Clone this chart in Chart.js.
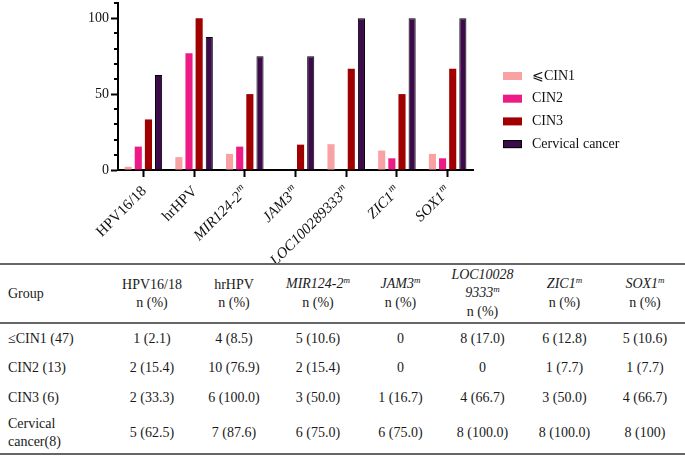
<!DOCTYPE html>
<html>
<head>
<meta charset="utf-8">
<script src="https://cdn.jsdelivr.net/npm/chart.js@4/dist/chart.umd.min.js"></script>
<style>
  body { margin: 0; background: #fff; width: 685px; height: 456px; position: relative; overflow: hidden; }
  #chartBox { position: absolute; left: 0; top: 0; width: 685px; height: 263px; }
  table {
    position: absolute; left: 0; top: 263px; width: 685px;
    border-collapse: collapse; table-layout: fixed;
    font-family: "Liberation Serif", "Times New Roman", serif; font-size: 14px; color: #1a1a1a; line-height: 18px;
    border-top: 2px solid #666; border-bottom: 2px solid #666;
  }
  thead tr { height: 59px; border-bottom: 2px solid #666; }
  tbody tr { height: 30px; }
  tbody tr.tall { height: 41px; }
  td, th { padding: 0; text-align: center; vertical-align: middle; font-weight: normal; }
  td:first-child, th:first-child { text-align: left; padding-left: 8px; }
  sup { font-size: 9px; font-style: italic; vertical-align: 0; position: relative; top: -5px; }
</style>
</head>
<body>
<div id="chartBox"><canvas id="barChart" width="685" height="263"></canvas></div>
<table id="dataTable"></table>
<script>
// Data
const categories = ["HPV16/18", "hrHPV", "MIR124-2", "JAM3", "LOC100289333", "ZIC1", "SOX1"];
const methylated = [false, false, true, true, true, true, true];
const groups = ["⩽CIN1", "CIN2", "CIN3", "Cervical cancer"];
const groupRowLabels = ["≤CIN1 (47)", "CIN2 (13)", "CIN3 (6)", "Cervical<br>cancer(8)"];
const cin1Counts = [1, 4, 5, 0, 8, 6, 5];
const cin1Pct = ["2.1", "8.5", "10.6", "0", "17.0", "12.8", "10.6"];
const cin2Counts = [2, 10, 2, 0, 0, 1, 1];
const cin2Pct = ["15.4", "76.9", "15.4", "0", "0", "7.7", "7.7"];
const cin3Counts = [2, 6, 3, 1, 4, 3, 4];
const cin3Pct = ["33.3", "100.0", "50.0", "16.7", "66.7", "50.0", "66.7"];
const cancerCounts = [5, 7, 6, 6, 8, 8, 8];
const cancerPct = ["62.5", "87.6", "75.0", "75.0", "100.0", "100.0", "100"];
const yTicks = [0, 50, 100];
const yMinorTicks = [10, 20, 30, 40, 60, 70, 80, 90, 110];

const colors = ["#F8A2A4", "#EE1A85", "#A00000", "#3D0B4C"];
const serif = '"Liberation Serif", "Times New Roman", serif';

// Table
function buildTable() {
    const table = document.getElementById("dataTable");
    const widths = [112, 80, 84, 84, 81, 83, 81, 80];
    let html = "<colgroup>" + widths.map(w => '<col style="width:' + w + 'px">').join("") + "</colgroup>";
    html += "<thead><tr><th>Group</th>";
    categories.forEach((name, i) => {
        let label = name;
        if (name.length > 10) label = name.slice(0, 8) + "<br>" + name.slice(8);
        if (methylated[i]) label = "<i>" + label + "<sup>m</sup></i>";
        html += "<th>" + label + "<br>n (%)</th>";
    });
    html += "</tr></thead><tbody>";
    const counts = [cin1Counts, cin2Counts, cin3Counts, cancerCounts];
    const pcts = [cin1Pct, cin2Pct, cin3Pct, cancerPct];
    groupRowLabels.forEach((g, r) => {
        html += (r === 3 ? '<tr class="tall">' : "<tr>") + "<td>" + g + "</td>";
        counts[r].forEach((c, i) => {
            html += "<td>" + (c === 0 ? "0" : c + " (" + pcts[r][i] + ")") + "</td>";
        });
        html += "</tr>";
    });
    html += "</tbody>";
    table.innerHTML = html;
}
buildTable();

// Minor ticks on the y axis
const minorTicks = {
    id: "minorTicks",
    afterDraw(chart) {
        const ctx = chart.ctx;
        const ys = chart.scales.y;
        const x = chart.chartArea.left;
        ctx.save();
        ctx.strokeStyle = "#000";
        ctx.lineWidth = 2;
        yMinorTicks.forEach(v => {
            const y = Math.round(ys.getPixelForValue(v));
            ctx.beginPath();
            ctx.moveTo(x - 4, y);
            ctx.lineTo(x, y);
            ctx.stroke();
        });
        ctx.restore();
    }
};

// Rotated category labels with superscript m
const xLabels = {
    id: "xLabels",
    afterDraw(chart) {
        const ctx = chart.ctx;
        const xs = chart.scales.x;
        const y0 = chart.chartArea.bottom;
        categories.forEach((name, i) => {
            const x = xs.getPixelForTick(i);
            const mainFont = (methylated[i] ? "italic " : "") + "15px " + serif;
            const supFont = "italic 10px " + serif;
            ctx.save();
            ctx.translate(x + 1, y0 + 19);
            ctx.rotate(-Math.PI / 4);
            ctx.fillStyle = "#111";
            ctx.textAlign = "left";
            ctx.textBaseline = "middle";
            ctx.font = mainFont;
            const w = ctx.measureText(name).width;
            let ws = 0;
            if (methylated[i]) {
                ctx.font = supFont;
                ws = ctx.measureText("m").width + 1;
            }
            ctx.font = mainFont;
            ctx.fillText(name, -(w + ws), 0);
            if (methylated[i]) {
                ctx.font = supFont;
                ctx.fillText("m", -ws + 1, -5);
            }
            ctx.restore();
        });
    }
};

// Legend at the right
const sideLegend = {
    id: "sideLegend",
    afterDraw(chart) {
        const ctx = chart.ctx;
        const left = chart.chartArea.right + 30;
        ctx.save();
        ctx.font = "14px " + serif;
        ctx.textBaseline = "middle";
        chart.data.datasets.forEach((ds, i) => {
            const y = 76 + i * 22.7;
            ctx.fillStyle = ds.backgroundColor;
            ctx.fillRect(left, y - 4, 19, 8);
            if (ds.borderWidth) {
                ctx.strokeStyle = "#000";
                ctx.lineWidth = 1;
                ctx.strokeRect(left + 0.5, y - 3.5, 18, 7);
            }
            ctx.fillStyle = "#111";
            ctx.fillText(ds.label, left + 29, y);
        });
        ctx.restore();
    }
};

const allPct = [cin1Pct, cin2Pct, cin3Pct, cancerPct];
const datasets = groups.map((g, i) => ({
    label: g,
    data: allPct[i].map(v => parseFloat(v)),
    backgroundColor: colors[i],
    borderColor: "#000",
    borderWidth: i === 3 ? 1 : 0
}));

new Chart(document.getElementById("barChart"), {
    type: "bar",
    data: { labels: categories, datasets: datasets },
    options: {
        responsive: false,
        animation: false,
        devicePixelRatio: 1,
        categoryPercentage: 0.8,
        barPercentage: 0.7,
        layout: { padding: { top: 3, right: 212, left: 0, bottom: 0 } },
        plugins: { legend: { display: false }, tooltip: { enabled: false } },
        scales: {
            x: {
                grid: { drawOnChartArea: false, offset: false, tickLength: 7, tickWidth: 2, tickColor: "#000" },
                border: { color: "#000", width: 2 },
                ticks: { display: false },
                afterFit(scale) { scale.height = 93; scale.paddingLeft = 0; scale.paddingRight = 0; }
            },
            y: {
                min: 0,
                max: 110,
                afterBuildTicks(scale) { scale.ticks = yTicks.map(v => ({ value: v })); },
                grid: { drawOnChartArea: false, tickLength: 7, tickWidth: 2, tickColor: "#000" },
                border: { color: "#000", width: 2 },
                ticks: { color: "#111", padding: 2, font: { family: serif, size: 14 } },
                afterFit(scale) { scale.width = 118; scale.paddingTop = 0; scale.paddingBottom = 0; }
            }
        }
    },
    plugins: [minorTicks, xLabels, sideLegend]
});
</script>
</body>
</html>
